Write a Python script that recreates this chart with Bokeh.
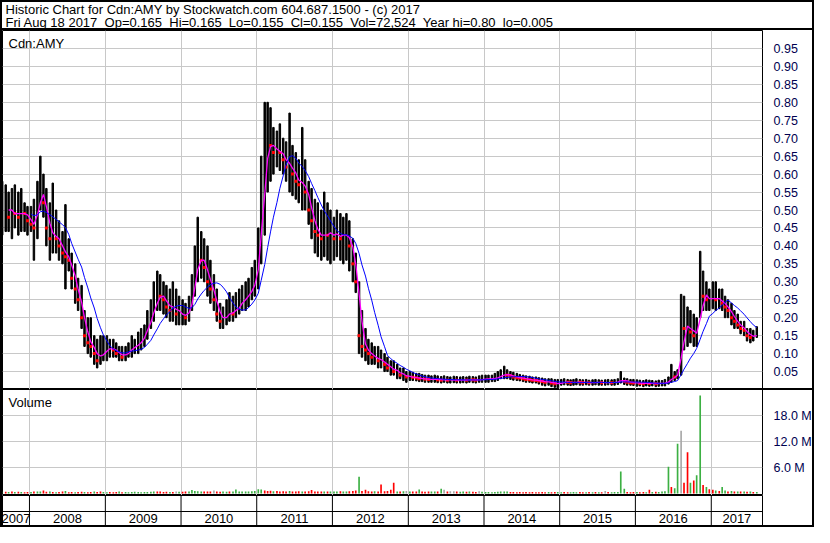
import pandas as pd
from bokeh.plotting import figure
from bokeh.layouts import column
from bokeh.models import (ColumnDataSource, Range1d, FixedTicker, NumeralTickFormatter,
                          PrintfTickFormatter, Label, Span)
from bokeh.core.properties import value
from bokeh.embed import file_html
from bokeh.resources import INLINE

# ---------------- header values ----------------
SYMBOL = "Cdn:AMY"
SOURCE_NAME = "Stockwatch.com 604.687.1500"
COPYRIGHT_YEAR = "2017"
LAST_DAY = "Fri Aug 18 2017"
LAST_OPEN = "0.165"
LAST_HIGH = "0.165"
LAST_LOW = "0.155"
LAST_CLOSE = "0.155"
LAST_VOLUME = "72,524"
YEAR_HIGH = "0.80"
YEAR_LOW = "0.005"

# ---------------- time axis ----------------
PERIOD_FIRST = "2007-08-15"   # half-month periods (1st / 15th)
PERIOD_LAST = "2017-08-01"
VIEW_START = "2007-08-24"
VIEW_END = "2017-09-05"
YEARS = [2007, 2008, 2009, 2010, 2011, 2012, 2013, 2014, 2015, 2016, 2017]

# ---------------- half-monthly price data ----------------
HIGH = [
    0.58, 0.57, 0.55, 0.56, 0.57, 0.55, 0.56, 0.52, 0.51,
    0.51, 0.53, 0.58, 0.65, 0.60, 0.56, 0.52, 0.575, 0.50, 0.47, 0.44, 0.515, 0.42, 0.38, 0.35, 0.31, 0.29, 0.22, 0.20, 0.20, 0.15, 0.14, 0.15, 0.15,
    0.15, 0.14, 0.14, 0.13, 0.12, 0.12, 0.12, 0.13, 0.15, 0.14, 0.16, 0.17, 0.18, 0.22, 0.25, 0.30, 0.33, 0.32, 0.30, 0.29, 0.28, 0.30, 0.28, 0.26,
    0.25, 0.24, 0.26, 0.32, 0.40, 0.48, 0.44, 0.42, 0.40, 0.36, 0.32, 0.28, 0.24, 0.23, 0.25, 0.27, 0.26, 0.27, 0.28, 0.29, 0.30, 0.31, 0.34, 0.36,
    0.45, 0.65, 0.80, 0.80, 0.785, 0.73, 0.72, 0.74, 0.70, 0.69, 0.77, 0.68, 0.66, 0.64, 0.73, 0.64, 0.58, 0.56, 0.53, 0.52, 0.50, 0.55, 0.52, 0.50,
    0.48, 0.50, 0.49, 0.48, 0.49, 0.47, 0.42, 0.38, 0.30, 0.22, 0.17, 0.14, 0.13, 0.12, 0.12, 0.11, 0.10, 0.09, 0.08, 0.08, 0.07, 0.06, 0.06, 0.05,
    0.05, 0.048, 0.045, 0.045, 0.042, 0.04, 0.04, 0.038, 0.04, 0.038, 0.036, 0.038, 0.036, 0.035, 0.037, 0.036, 0.035, 0.036, 0.035, 0.037, 0.036, 0.035, 0.038, 0.04,
    0.04, 0.04, 0.04, 0.045, 0.05, 0.055, 0.065, 0.055, 0.05, 0.048, 0.045, 0.042, 0.04, 0.038, 0.037, 0.035, 0.035, 0.033, 0.032, 0.03, 0.03, 0.03, 0.028, 0.028,
    0.028, 0.03, 0.028, 0.027, 0.028, 0.03, 0.028, 0.027, 0.028, 0.026, 0.027, 0.028, 0.027, 0.026, 0.027, 0.028, 0.027, 0.028, 0.03, 0.05, 0.032, 0.03, 0.028, 0.028,
    0.027, 0.026, 0.025, 0.027, 0.026, 0.025, 0.024, 0.026, 0.025, 0.028, 0.035, 0.07, 0.05, 0.055, 0.265, 0.26, 0.23, 0.22, 0.21, 0.20, 0.385, 0.33, 0.30, 0.28,
    0.30, 0.30, 0.28, 0.28, 0.26, 0.25, 0.24, 0.22, 0.21, 0.19, 0.19, 0.17, 0.17, 0.165, 0.175,
]
LOW = [
    0.43, 0.44, 0.44, 0.42, 0.45, 0.43, 0.44, 0.44, 0.43,
    0.44, 0.36, 0.42, 0.50, 0.48, 0.40, 0.36, 0.38, 0.38, 0.36, 0.35, 0.28, 0.33, 0.28, 0.24, 0.22, 0.17, 0.12, 0.10, 0.09, 0.07, 0.06, 0.07, 0.08,
    0.08, 0.09, 0.09, 0.09, 0.08, 0.08, 0.08, 0.09, 0.09, 0.10, 0.10, 0.11, 0.12, 0.14, 0.17, 0.19, 0.22, 0.22, 0.21, 0.20, 0.19, 0.19, 0.18, 0.18,
    0.18, 0.18, 0.19, 0.22, 0.26, 0.30, 0.31, 0.30, 0.26, 0.24, 0.22, 0.19, 0.17, 0.17, 0.18, 0.19, 0.19, 0.20, 0.21, 0.22, 0.22, 0.23, 0.25, 0.26,
    0.28, 0.35, 0.43, 0.55, 0.58, 0.60, 0.62, 0.61, 0.60, 0.58, 0.55, 0.54, 0.53, 0.52, 0.50, 0.50, 0.46, 0.42, 0.38, 0.37, 0.36, 0.37, 0.36, 0.35,
    0.36, 0.37, 0.36, 0.35, 0.36, 0.33, 0.30, 0.27, 0.10, 0.09, 0.08, 0.07, 0.07, 0.07, 0.06, 0.06, 0.05, 0.05, 0.04, 0.04, 0.03, 0.03, 0.025, 0.02,
    0.025, 0.025, 0.024, 0.022, 0.022, 0.02, 0.02, 0.02, 0.02, 0.019, 0.018, 0.02, 0.018, 0.018, 0.019, 0.018, 0.018, 0.019, 0.018, 0.02, 0.019, 0.018, 0.02, 0.02,
    0.02, 0.02, 0.022, 0.022, 0.025, 0.03, 0.03, 0.03, 0.028, 0.026, 0.025, 0.024, 0.022, 0.02, 0.02, 0.018, 0.018, 0.015, 0.012, 0.01, 0.012, 0.008, 0.006, 0.005,
    0.012, 0.013, 0.012, 0.011, 0.012, 0.013, 0.012, 0.012, 0.013, 0.012, 0.012, 0.013, 0.012, 0.012, 0.012, 0.013, 0.012, 0.012, 0.014, 0.018, 0.014, 0.012, 0.012, 0.011,
    0.009, 0.01, 0.008, 0.01, 0.009, 0.01, 0.008, 0.009, 0.01, 0.01, 0.015, 0.02, 0.025, 0.03, 0.04, 0.11, 0.12, 0.13, 0.12, 0.12, 0.20, 0.22, 0.22, 0.22,
    0.225, 0.22, 0.225, 0.22, 0.20, 0.20, 0.18, 0.17, 0.17, 0.155, 0.15, 0.135, 0.13, 0.135, 0.145,
]
CLOSE = [
    0.50, 0.52, 0.48, 0.50, 0.49, 0.48, 0.50, 0.49, 0.47,
    0.46, 0.45, 0.55, 0.56, 0.52, 0.45, 0.42, 0.44, 0.42, 0.40, 0.38, 0.37, 0.36, 0.31, 0.28, 0.25, 0.20, 0.15, 0.13, 0.12, 0.10, 0.08, 0.10, 0.11,
    0.11, 0.12, 0.11, 0.10, 0.10, 0.09, 0.10, 0.11, 0.12, 0.12, 0.13, 0.14, 0.16, 0.19, 0.21, 0.24, 0.27, 0.26, 0.25, 0.23, 0.22, 0.24, 0.21, 0.21,
    0.21, 0.20, 0.23, 0.28, 0.34, 0.38, 0.36, 0.34, 0.30, 0.28, 0.25, 0.21, 0.19, 0.20, 0.21, 0.22, 0.21, 0.23, 0.24, 0.25, 0.26, 0.27, 0.29, 0.31,
    0.40, 0.58, 0.65, 0.70, 0.68, 0.66, 0.67, 0.66, 0.64, 0.62, 0.63, 0.60, 0.58, 0.57, 0.58, 0.55, 0.50, 0.47, 0.44, 0.43, 0.42, 0.44, 0.43, 0.44,
    0.42, 0.44, 0.42, 0.43, 0.44, 0.40, 0.35, 0.30, 0.15, 0.12, 0.11, 0.10, 0.09, 0.09, 0.08, 0.08, 0.07, 0.06, 0.06, 0.05, 0.05, 0.04, 0.04, 0.035,
    0.035, 0.034, 0.032, 0.03, 0.03, 0.029, 0.028, 0.028, 0.029, 0.027, 0.026, 0.028, 0.026, 0.026, 0.027, 0.026, 0.026, 0.027, 0.026, 0.028, 0.027, 0.026, 0.028, 0.029,
    0.03, 0.03, 0.03, 0.032, 0.035, 0.04, 0.045, 0.04, 0.038, 0.035, 0.033, 0.032, 0.03, 0.028, 0.027, 0.026, 0.025, 0.024, 0.022, 0.02, 0.021, 0.018, 0.016, 0.016,
    0.02, 0.021, 0.02, 0.019, 0.02, 0.021, 0.02, 0.019, 0.02, 0.019, 0.019, 0.02, 0.02, 0.019, 0.019, 0.02, 0.019, 0.02, 0.022, 0.03, 0.022, 0.02, 0.019, 0.018,
    0.018, 0.017, 0.016, 0.018, 0.017, 0.017, 0.016, 0.017, 0.018, 0.019, 0.025, 0.04, 0.035, 0.045, 0.18, 0.17, 0.18, 0.16, 0.15, 0.16, 0.28, 0.26, 0.25, 0.25,
    0.26, 0.25, 0.25, 0.24, 0.23, 0.22, 0.20, 0.19, 0.18, 0.17, 0.165, 0.15, 0.145, 0.15, 0.155,
]
# peak daily volume per half-month, millions of shares
VOLUME_M = [
    0.5, 0.4, 0.35, 0.5, 0.35, 0.4, 0.35, 0.3, 0.35,
    0.35, 0.5, 0.45, 0.5, 0.7, 0.4, 0.45, 0.35, 0.3, 0.35, 0.45, 0.6, 0.3, 0.35, 0.3, 0.35, 0.4, 0.35, 0.3, 0.35, 0.45, 0.35, 0.5, 0.35,
    0.3, 0.35, 0.3, 0.35, 0.45, 0.3, 0.35, 0.3, 0.35, 0.4, 0.35, 0.3, 0.35, 0.35, 0.4, 0.45, 0.5, 0.45, 0.35, 0.4, 0.35, 0.35, 0.45, 0.4,
    0.4, 0.45, 0.5, 0.8, 0.6, 0.55, 0.5, 0.45, 0.45, 0.45, 0.7, 0.45, 0.4, 0.45, 0.4, 0.45, 0.5, 0.95, 0.45, 0.45, 0.5, 0.45, 0.55, 0.6,
    1.0, 0.95, 0.7, 0.6, 0.65, 0.55, 0.6, 0.5, 0.55, 0.5, 0.6, 0.5, 0.5, 0.55, 0.5, 0.5, 0.55, 0.8, 0.5, 0.45, 0.5, 0.45, 0.45, 0.5,
    0.5, 0.45, 0.55, 0.5, 0.45, 0.55, 0.6, 0.7, 3.9, 0.6, 0.9, 0.55, 0.5, 0.55, 0.45, 2.1, 0.55, 0.6, 0.9, 2.5, 0.5, 0.45, 0.55, 0.6,
    0.5, 0.45, 0.45, 0.95, 0.45, 0.4, 0.45, 0.5, 0.45, 0.45, 1.1, 0.9, 0.5, 0.55, 0.55, 0.45, 0.4, 0.45, 0.4, 0.45, 0.4, 0.35, 0.55, 0.4,
    0.35, 0.35, 0.3, 0.35, 0.4, 0.45, 0.5, 0.45, 0.35, 0.35, 0.3, 0.35, 0.3, 0.35, 0.3, 0.35, 0.3, 0.3, 0.35, 0.3, 0.35, 0.3, 0.35, 0.35,
    0.3, 0.35, 0.3, 0.3, 0.35, 0.3, 0.35, 0.3, 0.3, 0.35, 0.3, 0.35, 0.3, 0.3, 0.6, 0.35, 0.3, 0.35, 0.35, 5.1, 1.1, 0.35, 0.3, 0.35,
    0.35, 0.3, 0.35, 0.3, 0.9, 0.35, 0.4, 0.35, 0.45, 0.55, 6.2, 1.5, 1.2, 11.5, 14.5, 2.5, 9.5, 2.5, 3.0, 4.2, 22.6, 2.0, 1.5, 1.0,
    0.9, 0.7, 0.6, 1.5, 0.7, 0.5, 0.6, 0.45, 0.5, 0.45, 0.45, 0.4, 0.45, 0.35, 0.35,
]
# g = up, r = down, n = unchanged
VOLUME_DIR = (
    "grgrgrgrr"
    "grggrrgrgrrgrrgrrgrrgrrg"
    "grrrgrggggggggggrrrrgrng"
    "rrgggggrrrnrrggrgggggggg"
    "ggrrrgrrrrgrrrgrrrrrrgrg"
    "ggrggrrrgrrrrgrrrrrrgrgn"
    "grrgrrrggrgnrnnrggrgrrng"
    "ggggggggrrrrrrrrrrrrgrrg"
    "grrgggrrgrgrgrnrgggggrrr"
    "grrgrgrggggrggnrrgrggrgr"
    "rgrggrgrgrgrgrg"
)

PRICE_TICKS = [0.05, 0.10, 0.15, 0.20, 0.25, 0.30, 0.35, 0.40, 0.45, 0.50,
               0.55, 0.60, 0.65, 0.70, 0.75, 0.80, 0.85, 0.90, 0.95]
VOLUME_TICKS = [6, 12, 18]

# ---------------- derived ----------------
starts = pd.date_range(PERIOD_FIRST, PERIOD_LAST, freq="SMS")
centers = starts + pd.Timedelta(hours=180)
close_s = pd.Series(CLOSE)
ma_fast = close_s.rolling(3).mean()
ma_slow = close_s.rolling(10).mean()
down = (close_s.diff() < 0).values

DIR_COLORS = {"g": "#3cb043", "r": "#ff0000", "n": "#a8a8a8"}

src = ColumnDataSource(dict(x=centers, high=HIGH, low=LOW, close=CLOSE,
                            vol=VOLUME_M, vcol=[DIR_COLORS[c] for c in VOLUME_DIR],
                            maf=ma_fast.values, mas=ma_slow.values))
dsrc = ColumnDataSource(dict(x=centers[down], close=close_s[down].values))

view_start = pd.Timestamp(VIEW_START)
view_end = pd.Timestamp(VIEW_END)
year_starts = [pd.Timestamp(f"{y}-01-01") for y in YEARS[1:]]
year_ms = [t.value / 1e6 for t in year_starts]
mids = []
for y in YEARS:
    a = max(pd.Timestamp(f"{y}-01-01"), view_start)
    b = min(pd.Timestamp(f"{y + 1}-01-01"), view_end)
    mids.append(a + (b - a) / 2)

# ---------------- layout constants ----------------
W = 814
LB, RB = 2, 42
H_HEAD, H_PRICE, H_VOL, H_YEAR = 30, 359, 106, 32
FONT = "Liberation Sans"
AXIS_COLOR = "#000050"
GRID = "#c8c8c8"
DAY_MS = 86400000

xr = Range1d(view_start, view_end)


def base(height, x_range, y_range, **kw):
    p = figure(width=W, height=height, x_range=x_range, y_range=y_range,
               toolbar_location=None, output_backend="svg",
               border_fill_color=None, background_fill_color=None, **kw)
    p.min_border_left = LB
    p.min_border_right = RB
    p.min_border_top = 0
    p.min_border_bottom = 0
    return p


# header
head = figure(width=W, height=H_HEAD, x_range=(0, 1), y_range=(0, 1),
              toolbar_location=None, output_backend="svg",
              x_axis_location=None, y_axis_location=None,
              border_fill_color=None, background_fill_color=None,
              outline_line_color=None, min_border=0)
head.grid.visible = False
sp = "\u00a0 "
line1 = f"Historic Chart for {SYMBOL} by {SOURCE_NAME} - (c) {COPYRIGHT_YEAR}"
line2 = (f"{LAST_DAY}{sp}Op={LAST_OPEN}{sp}Hi={LAST_HIGH}{sp}Lo={LAST_LOW}{sp}"
         f"Cl={LAST_CLOSE}{sp}Vol={LAST_VOLUME}{sp}Year hi={YEAR_HIGH}{sp}lo={YEAR_LOW}")
head.text(x=[0.004, 0.004], y=[0.71, 0.27], text=[line1, line2],
          text_font=value(FONT), text_font_size="13px", text_color="black",
          text_baseline="middle", text_align="left")
head.styles = {"background-color": "white",
               "box-shadow": "inset 2px 0 0 0 #000, inset -2px 0 0 0 #000, inset 0 2px 0 0 #000, inset 0 -2px 0 0 #000"}


def style_right_axis(p, ticks, formatter):
    ax = p.yaxis[0]
    ax.ticker = FixedTicker(ticks=ticks)
    ax.formatter = formatter
    ax.axis_line_color = None
    ax.major_tick_line_color = None
    ax.minor_tick_line_color = None
    ax.major_label_standoff = 5
    ax.major_label_text_font = FONT
    ax.major_label_text_font_size = "12.5px"
    ax.major_label_text_color = AXIS_COLOR
    p.ygrid.ticker = FixedTicker(ticks=ticks)
    p.xgrid.ticker = FixedTicker(ticks=year_ms)
    p.grid.grid_line_color = GRID
    p.grid.grid_line_width = 1
    p.outline_line_color = "black"
    p.outline_line_width = 1


# price panel
pp = base(H_PRICE, xr, Range1d(0, 1.0), x_axis_type="datetime",
          x_axis_location=None, y_axis_location="right")
style_right_axis(pp, PRICE_TICKS, NumeralTickFormatter(format="0.00"))
pp.vbar(x="x", top="high", bottom="low", width=7 * DAY_MS, color="black", source=src)
pp.scatter(x="x", y="close", marker="square", size=3, color="red", line_width=0, source=dsrc)
pp.line(x="x", y="maf", color="#ff00ff", line_width=1.3, source=src)
pp.line(x="x", y="mas", color="#0000ff", line_width=1.0, source=src)
pp.add_layout(Label(x=6, y=H_PRICE - 5, x_units="screen", y_units="screen", text=SYMBOL,
                    text_baseline="top", text_font=FONT, text_font_size="13px",
                    text_color="black"))
pp.styles = {"background-color": "white",
             "box-shadow": "inset 2px 0 0 0 #000, inset -2px 0 0 0 #000, inset 0 -1px 0 0 #000"}

# volume panel
vp = base(H_VOL, xr, Range1d(-0.45, 24.0), x_axis_type="datetime",
          x_axis_location=None, y_axis_location="right")
style_right_axis(vp, VOLUME_TICKS, PrintfTickFormatter(format="%.1f M"))
vp.vbar(x="x", top="vol", bottom=0, width=8 * DAY_MS, fill_color="vcol", line_color=None, source=src)
vp.add_layout(Label(x=6, y=H_VOL - 5, x_units="screen", y_units="screen", text="Volume",
                    text_baseline="top", text_font=FONT, text_font_size="13px",
                    text_color="black"))
vp.styles = {"background-color": "white",
             "box-shadow": "inset 2px 0 0 0 #000, inset -2px 0 0 0 #000, inset 0 1px 0 0 #000"}

# year band
yp = base(H_YEAR, xr, Range1d(0, 2), x_axis_type="datetime",
          x_axis_location=None, y_axis_location=None)
yp.grid.visible = False
yp.outline_line_color = "black"
yp.outline_line_width = 1
yp.segment(x0=year_starts, y0=[0] * len(year_starts), x1=year_starts, y1=[2] * len(year_starts),
           line_color="black", line_width=1)
yp.add_layout(Span(location=1.0, dimension="width", line_color="black", line_width=1))
yp.text(x=mids, y=[0.55] * len(mids), text=[str(y) for y in YEARS],
        text_font=value(FONT), text_font_size="13px", text_color="black",
        text_align="center", text_baseline="middle")
yp.styles = {"background-color": "white",
             "box-shadow": "inset 2px 0 0 0 #000, inset -2px 0 0 0 #000, inset 0 -2px 0 0 #000"}

layout = column(head, pp, vp, yp, spacing=0)
open("out.html", "w").write(file_html(layout, INLINE))
